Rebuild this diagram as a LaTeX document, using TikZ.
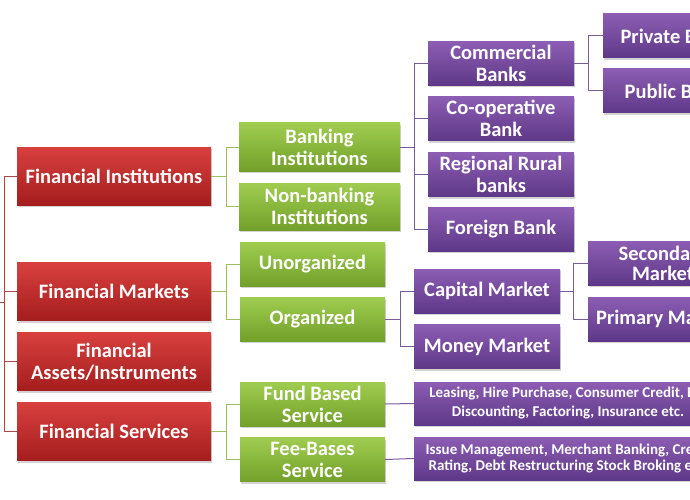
\documentclass[tikz,border=0pt]{standalone}
\usepackage{fontspec}
\setmainfont{Carlito}
\usetikzlibrary{calc, positioning, shadows}
\definecolor{redtop}{HTML}{D8403E}
\definecolor{redbot}{HTML}{A51D1E}
\definecolor{greentop}{HTML}{A0CD50}
\definecolor{greenbot}{HTML}{72A02A}
\definecolor{purpletop}{HTML}{8C5DB3}
\definecolor{purplebot}{HTML}{5E3888}
\definecolor{redwire}{HTML}{B24545}
\definecolor{greenwire}{HTML}{9CC05C}
\definecolor{purplewire}{HTML}{7B5A9C}
\def\forkgap{15}
\tikzstyle{box}=[rectangle, align=center, text=white, inner sep=2pt,
  font=\fontsize{20.5pt}{22pt}\selectfont\bfseries, minimum height=44pt,
  drop shadow={shadow xshift=1pt, shadow yshift=-2pt, opacity=0.35}]
\tikzstyle{main box}=[box, minimum width=194pt, minimum height=58pt, top color=redtop, bottom color=redbot]
\tikzstyle{sub box}=[box, minimum width=145pt, top color=greentop, bottom color=greenbot]
\tikzstyle{leaf box}=[box, minimum width=146pt, top color=purpletop, bottom color=purplebot]
\tikzstyle{wide leaf}=[leaf box, minimum width=308pt, font=\fontsize{15pt}{19pt}\selectfont\bfseries]
\tikzstyle{main line}=[draw=redwire, line width=1pt]
\tikzstyle{sub line}=[draw=greenwire, line width=1pt]
\tikzstyle{leaf line}=[draw=purplewire, line width=1pt]

\begin{document}
\begin{tikzpicture}[x=1pt, y=-1pt]
			\useasboundingbox (0,0) rectangle (690,500);
			\clip (0,0) rectangle (690,500);

			% Draw the main (red) nodes
			\foreach \name / \y / \txt in {1/176/Financial Institutions, 2/291.5/Financial Markets,
				3/361.5/{Financial\\Assets/Instruments}, 4/431.5/Financial Services}
			\node[main box] (R-\name) at (114,\y) {\txt};

			% Draw the second level (green) nodes
			\node[sub box, minimum width=161pt, minimum height=48pt] (G-1) at (319.5,147) {Banking\\Institutions};
			\node[sub box, minimum width=161pt, minimum height=47pt] (G-2) at (319.5,206.5) {Non-banking\\Institutions};
			\foreach \name / \y / \txt in {3/264/Unorganized, 4/319/Organized,
				5/404/{Fund Based\\Service}, 6/459.5/{Fee-Bases\\Service}}
			\node[sub box] (G-\name) at (312.5,\y) {\txt};

			% Draw the bank nodes
			\foreach \name / \y / \txt in {1/63.5/{Commercial\\Banks}, 2/118.5/{Co-operative\\Bank},
				3/174.5/{Regional Rural\\banks}, 4/229/Foreign Bank}
			\node[leaf box] (B-\name) at (501,\y) {\txt};
			\node[leaf box, minimum width=150pt] (B-5) at (678,36) {Private Banks};
			\node[leaf box, minimum width=150pt] (B-6) at (678,91) {Public Banks};

			% Draw the market nodes
			\node[leaf box] (M-1) at (487,291) {Capital Market};
			\node[leaf box] (M-2) at (487,346.5) {Money Market};
			\node[leaf box, minimum width=150pt, font=\fontsize{20.5pt}{20pt}\selectfont\bfseries] (M-3) at (663,263) {Secondary\\Market};
			\node[leaf box, minimum width=150pt] (M-4) at (663,319) {Primary Market};

			% Draw the service nodes
			\node[wide leaf, minimum height=43pt] (S-1) at (568,403.5) {Leasing, Hire Purchase, Consumer Credit, Bill\\Discounting, Factoring, Insurance etc.};
			\node[wide leaf, minimum height=43pt, font=\fontsize{15pt}{16.5pt}\selectfont\bfseries] (S-2) at (568,458.5) {Issue Management, Merchant Banking, Credit\\Rating, Debt Restructuring Stock Broking etc.};

			% Connect the root with every main node
			\coordinate (root) at (0,302);
			\coordinate (rootfork) at (4,302);
			\draw[main line] (root) -- (rootfork);
			\foreach \dest in {1,...,4}
			\draw[main line] (rootfork) |- (R-\dest.west);

			% Connect the main nodes with the second level
			\foreach \source / \dest in {1/1, 1/2, 2/3, 2/4, 4/5, 4/6}
			\draw[sub line] (R-\source.east) -- ++(\forkgap,0) |- (G-\dest.west);

			% Connect the banking institutions with the banks
			\foreach \dest in {1,...,4}
			\draw[leaf line] (G-1.east) -- ++(14,0) |- (B-\dest.west);
			\foreach \dest in {5,6}
			\draw[leaf line] (B-1.east) -- ++(14,0) |- (B-\dest.west);

			% Connect the organized markets
			\foreach \dest in {1,2}
			\draw[leaf line] (G-4.east) -- ++(\forkgap,0) |- (M-\dest.west);
			\foreach \dest in {3,4}
			\draw[leaf line] (M-1.east) -- ++(13,0) |- (M-\dest.west);

			% Connect the services
			\draw[leaf line] (G-5.east) -- (S-1.west);
			\draw[leaf line] (G-6.east) -- (S-2.west);
		\end{tikzpicture}
\end{document}
